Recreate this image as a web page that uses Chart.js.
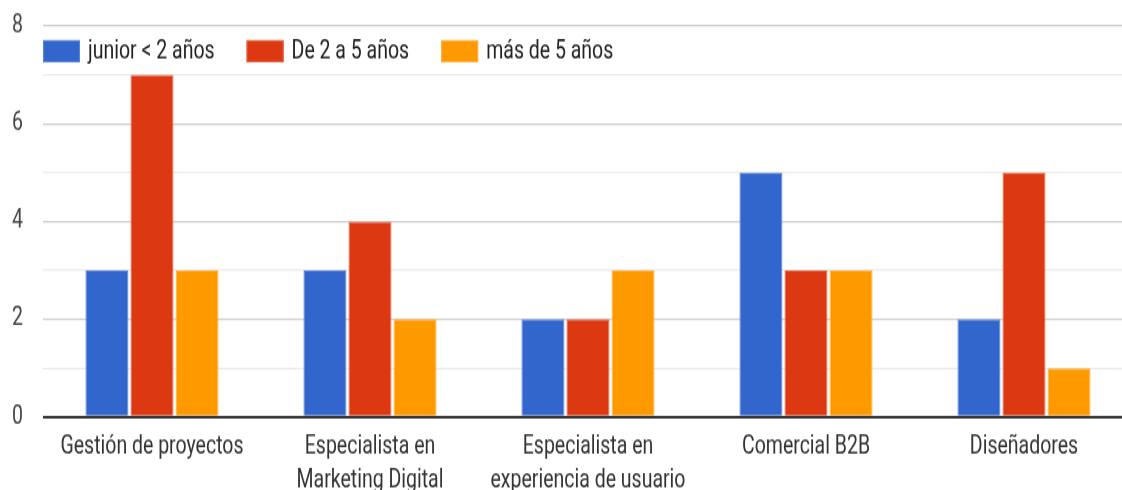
<!DOCTYPE html>
<html>
<head>
<meta charset="utf-8">
<script src="https://cdn.jsdelivr.net/npm/chart.js@4/dist/chart.umd.min.js"></script>
<style>
html,body{margin:0;padding:0;background:#fff;overflow:hidden;}
#wrap{width:1122px;height:490px;overflow:hidden;position:relative;}
#inner{position:absolute;left:0;top:0;width:1133px;height:377px;transform:scale(1,1.2997);transform-origin:0 0;}
canvas{display:block;}
</style>
</head>
<body>
<div id="wrap"><div id="inner"><canvas id="c" width="1133" height="377"></canvas></div></div>
<script>
const categories = [
  "Gestión de proyectos",
  ["Especialista en", "Marketing Digital"],
  ["Especialista en", "experiencia de usuario"],
  "Comercial B2B",
  "Diseñadores"
];
const seriesNames = ["junior < 2 años", "De 2 a 5 años", "más de 5 años"];
const juniorValues = [3, 3, 2, 5, 2];
const midValues = [7, 4, 2, 3, 5];
const seniorValues = [3, 2, 3, 3, 1];
const yTickLabels = [0, 2, 4, 6, 8];

const colors = ["#3366cc", "#dc3912", "#ff9900"];
const borders = ["#5c85d6", "#e86545", "#ffb347"];
const FONT = "Roboto";
const FSIZE = 19.5;

Chart.defaults.font.family = FONT;

const legendPlugin = {
  id: 'inlineLegend',
  afterDatasetsDraw(chart) {
    const ctx = chart.ctx;
    const area = chart.chartArea;
    let x = area.left;
    const boxW = 37, boxH = 17;
    const cy = 39.4;
    ctx.save();
    ctx.font = FSIZE + 'px ' + FONT;
    ctx.textBaseline = 'middle';
    ctx.textAlign = 'left';
    chart.data.datasets.forEach((ds, i) => {
      ctx.fillStyle = ds.backgroundColor;
      ctx.fillRect(x, cy - boxH / 2, boxW, boxH);
      ctx.strokeStyle = ds.borderColor;
      ctx.lineWidth = 1;
      ctx.strokeRect(x + 0.5, cy - boxH / 2 + 0.5, boxW - 1, boxH - 1);
      ctx.fillStyle = '#222';
      const tx = x + boxW + 8;
      ctx.fillText(ds.label, tx, cy + 1);
      x = tx + ctx.measureText(ds.label).width + 32;
    });
    ctx.restore();
  }
};

new Chart(document.getElementById('c'), {
  type: 'bar',
  data: {
    labels: categories,
    datasets: [juniorValues, midValues, seniorValues].map((d, i) => ({
      label: seriesNames[i],
      data: d,
      backgroundColor: colors[i],
      borderColor: borders[i],
      borderWidth: 1,
      categoryPercentage: 0.62,
      barPercentage: 0.955
    }))
  },
  plugins: [legendPlugin],
  options: {
    responsive: false,
    animation: false,
    devicePixelRatio: 1,
    layout: {padding: {top: 20, right: 0, left: 0, bottom: 0}},
    plugins: {
      tooltip: {enabled: false},
      legend: {display: false}
    },
    scales: {
      x: {
        grid: {display: false, drawTicks: false},
        border: {display: false},
        ticks: {
          color: '#333',
          font: {size: FSIZE, family: FONT, lineHeight: 1.32},
          padding: 10.5,
          maxRotation: 0,
          autoSkip: false
        },
        afterFit: s => { s.height = 56.2; s.paddingLeft = 0; s.paddingRight = 0; }
      },
      y: {
        min: 0,
        max: 8,
        border: {display: false},
        grid: {
          drawTicks: false,
          color: ctx => ctx.tick && ctx.tick.value === 0 ? '#333' : (ctx.tick && ctx.tick.value % 2 === 0 ? '#cccccc' : '#ebebeb'),
          lineWidth: ctx => ctx.tick && ctx.tick.value === 0 ? 2 : 1.2
        },
        ticks: {
          stepSize: 1,
          color: '#444',
          font: {size: FSIZE, family: FONT},
          padding: 20,
          callback: v => yTickLabels.includes(v) ? String(v) : ''
        },
        afterFit: s => { s.width = 43; s.paddingTop = 0; s.paddingBottom = 0; }
      }
    }
  }
});
</script>
</body>
</html>
